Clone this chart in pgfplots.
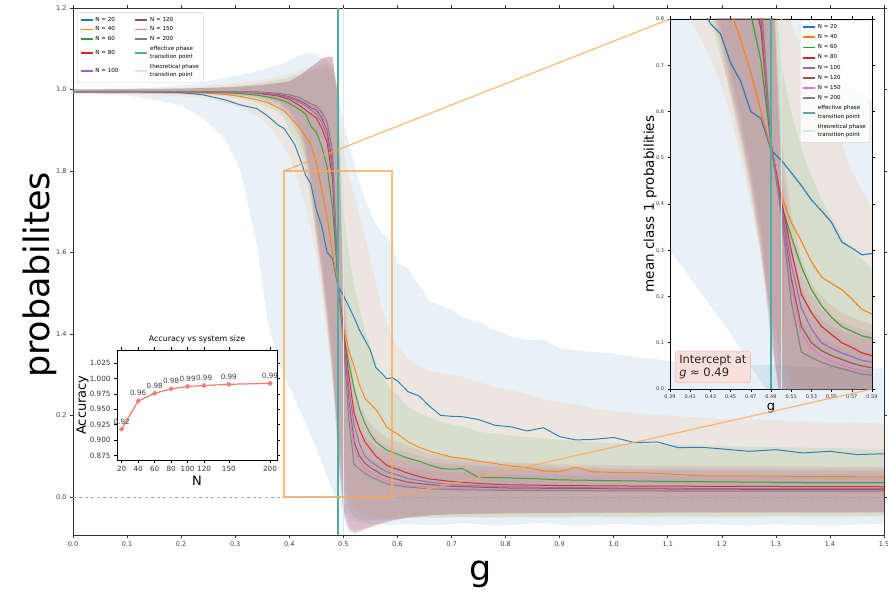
\documentclass[border=0pt]{standalone}
\usepackage{fontspec}
\setmainfont{DejaVu Sans}
\usepackage{pgfplots}
\usepackage{pgfplotstable}
\pgfplotsset{compat=1.18}
\usepgfplotslibrary{fillbetween}

\definecolor{cA}{HTML}{1F77B4}
\definecolor{cB}{HTML}{FF7F0E}
\definecolor{cC}{HTML}{2CA02C}
\definecolor{cD}{HTML}{D62728}
\definecolor{cE}{HTML}{9467BD}
\definecolor{cF}{HTML}{8C564B}
\definecolor{cG}{HTML}{E377C2}
\definecolor{cH}{HTML}{7F7F7F}
\definecolor{tealc}{RGB}{84,172,160}
\definecolor{theo}{RGB}{205,236,233}
\definecolor{salm}{RGB}{240,125,115}
\definecolor{boxf}{RGB}{250,222,218}
\definecolor{boxd}{RGB}{228,180,172}

\pgfplotstableread{
g m lo hi
0.00 0.995 0.990 1.000
0.10 0.995 0.985 1.002
0.15 0.994 0.975 1.005
0.20 0.992 0.960 1.010
0.24 0.987 0.930 1.018
0.28 0.975 0.880 1.028
0.31 0.962 0.800 1.036
0.34 0.953 0.620 1.045
0.36 0.935 0.430 1.052
0.38 0.912 0.330 1.060
0.39 0.905 0.300 1.065
0.40 0.885 0.270 1.070
0.41 0.865 0.240 1.078
0.42 0.830 0.210 1.085
0.43 0.790 0.180 1.088
0.44 0.768 0.150 1.090
0.45 0.705 0.120 1.088
0.46 0.665 0.085 1.080
0.47 0.600 0.050 1.070
0.48 0.585 0.015 1.055
0.49 0.517 -0.015 1.000
0.50 0.495 -0.035 0.920
0.51 0.468 -0.050 0.870
0.52 0.440 -0.058 0.820
0.53 0.409 -0.062 0.770
0.54 0.385 -0.065 0.730
0.55 0.360 -0.066 0.700
0.56 0.318 -0.067 0.670
0.57 0.305 -0.066 0.650
0.58 0.290 -0.068 0.640
0.59 0.293 -0.070 0.620
0.60 0.285 -0.068 0.575
0.62 0.258 -0.066 0.560
0.64 0.248 -0.068 0.520
0.66 0.222 -0.070 0.480
0.68 0.200 -0.069 0.470
0.70 0.198 -0.066 0.460
0.72 0.197 -0.064 0.440
0.75 0.190 -0.067 0.430
0.78 0.176 -0.071 0.410
0.81 0.172 -0.069 0.395
0.84 0.162 -0.066 0.384
0.87 0.170 -0.064 0.386
0.90 0.148 -0.068 0.366
0.93 0.140 -0.072 0.360
0.96 0.141 -0.070 0.356
1.00 0.146 -0.066 0.352
1.04 0.133 -0.068 0.342
1.08 0.135 -0.071 0.338
1.12 0.121 -0.069 0.330
1.16 0.122 -0.066 0.332
1.20 0.118 -0.068 0.327
1.25 0.112 -0.071 0.322
1.30 0.116 -0.067 0.325
1.35 0.108 -0.069 0.318
1.40 0.112 -0.072 0.320
1.45 0.104 -0.068 0.314
1.50 0.106 -0.066 0.316
}\tabA

\pgfplotstableread{
g m lo hi
0.00 0.995 0.990 1.000
0.10 0.995 0.989 1.001
0.20 0.994 0.984 1.004
0.24 0.992 0.978 1.008
0.28 0.988 0.968 1.013
0.31 0.983 0.955 1.018
0.34 0.975 0.935 1.023
0.36 0.968 0.915 1.027
0.38 0.955 0.880 1.032
0.39 0.948 0.860 1.035
0.40 0.935 0.835 1.039
0.41 0.920 0.800 1.043
0.42 0.905 0.760 1.047
0.43 0.885 0.715 1.051
0.44 0.865 0.660 1.055
0.45 0.820 0.590 1.058
0.46 0.755 0.500 1.060
0.47 0.685 0.400 1.065
0.48 0.600 0.290 1.060
0.49 0.520 0.170 1.000
0.50 0.420 0.070 0.850
0.51 0.360 0.010 0.790
0.52 0.320 -0.020 0.740
0.53 0.275 -0.035 0.690
0.54 0.242 -0.042 0.640
0.55 0.228 -0.046 0.580
0.56 0.215 -0.048 0.530
0.57 0.195 -0.050 0.470
0.58 0.172 -0.051 0.430
0.59 0.162 -0.050 0.390
0.60 0.155 -0.052 0.370
0.62 0.135 -0.050 0.340
0.64 0.122 -0.049 0.320
0.66 0.112 -0.051 0.310
0.68 0.105 -0.052 0.305
0.70 0.098 -0.050 0.300
0.72 0.095 -0.049 0.295
0.75 0.088 -0.051 0.282
0.78 0.082 -0.052 0.270
0.81 0.076 -0.050 0.262
0.84 0.072 -0.049 0.252
0.87 0.064 -0.051 0.240
0.90 0.062 -0.052 0.232
0.93 0.073 -0.050 0.228
0.96 0.062 -0.049 0.218
1.00 0.060 -0.051 0.210
1.04 0.060 -0.052 0.206
1.08 0.058 -0.050 0.202
1.12 0.055 -0.049 0.198
1.16 0.052 -0.051 0.195
1.20 0.052 -0.052 0.192
1.30 0.051 -0.050 0.188
1.40 0.050 -0.051 0.184
1.50 0.049 -0.050 0.180
}\tabB

\pgfplotstableread{
g m lo hi
0.00 0.995 0.991 1.000
0.20 0.995 0.989 1.002
0.28 0.992 0.984 1.006
0.31 0.990 0.978 1.010
0.34 0.986 0.968 1.015
0.36 0.982 0.958 1.019
0.38 0.976 0.945 1.024
0.39 0.972 0.930 1.027
0.40 0.966 0.900 1.030
0.41 0.958 0.880 1.034
0.42 0.950 0.850 1.038
0.43 0.940 0.800 1.042
0.44 0.910 0.720 1.046
0.45 0.895 0.640 1.050
0.46 0.860 0.550 1.052
0.47 0.810 0.440 1.055
0.48 0.710 0.300 1.050
0.49 0.530 0.150 0.980
0.50 0.400 0.030 0.700
0.51 0.330 -0.030 0.600
0.52 0.265 -0.050 0.520
0.53 0.215 -0.056 0.460
0.54 0.180 -0.058 0.410
0.55 0.155 -0.058 0.370
0.56 0.135 -0.057 0.330
0.57 0.125 -0.056 0.300
0.58 0.115 -0.055 0.280
0.59 0.110 -0.054 0.260
0.60 0.105 -0.053 0.250
0.62 0.095 -0.052 0.220
0.64 0.088 -0.051 0.205
0.66 0.078 -0.050 0.196
0.68 0.070 -0.050 0.185
0.70 0.068 -0.049 0.178
0.72 0.070 -0.050 0.174
0.75 0.048 -0.050 0.160
0.80 0.047 -0.049 0.152
0.85 0.045 -0.050 0.146
0.90 0.042 -0.049 0.140
0.95 0.041 -0.048 0.136
1.00 0.040 -0.049 0.132
1.10 0.038 -0.048 0.128
1.20 0.037 -0.048 0.125
1.30 0.036 -0.047 0.122
1.40 0.035 -0.047 0.120
1.50 0.035 -0.046 0.118
}\tabC

\pgfplotstableread{
g m lo hi
0.00 0.995 0.991 1.000
0.20 0.995 0.990 1.002
0.30 0.994 0.986 1.006
0.34 0.991 0.980 1.010
0.38 0.984 0.960 1.016
0.40 0.976 0.930 1.020
0.42 0.960 0.880 1.035
0.43 0.950 0.830 1.045
0.44 0.940 0.740 1.055
0.45 0.930 0.630 1.065
0.46 0.905 0.530 1.075
0.47 0.870 0.420 1.080
0.48 0.780 0.290 1.080
0.49 0.530 0.100 0.980
0.50 0.410 -0.030 0.550
0.51 0.300 -0.070 0.380
0.52 0.205 -0.082 0.280
0.53 0.165 -0.080 0.230
0.54 0.135 -0.076 0.200
0.55 0.118 -0.072 0.180
0.56 0.100 -0.068 0.165
0.57 0.090 -0.064 0.155
0.58 0.078 -0.060 0.147
0.59 0.072 -0.057 0.140
0.60 0.068 -0.055 0.135
0.62 0.058 -0.050 0.125
0.64 0.050 -0.047 0.115
0.66 0.044 -0.045 0.106
0.70 0.038 -0.043 0.098
0.75 0.033 -0.042 0.090
0.80 0.030 -0.041 0.085
0.90 0.028 -0.040 0.080
1.00 0.027 -0.040 0.078
1.20 0.026 -0.039 0.076
1.50 0.025 -0.039 0.074
}\tabD

\pgfplotstableread{
g m lo hi
0.00 0.995 0.991 1.000
0.20 0.995 0.990 1.002
0.30 0.994 0.987 1.006
0.34 0.992 0.982 1.010
0.38 0.986 0.965 1.016
0.40 0.980 0.940 1.020
0.42 0.968 0.890 1.035
0.43 0.960 0.845 1.045
0.44 0.950 0.760 1.055
0.45 0.940 0.650 1.065
0.46 0.920 0.550 1.075
0.47 0.885 0.440 1.080
0.48 0.800 0.310 1.080
0.49 0.530 0.110 0.980
0.50 0.400 -0.035 0.500
0.51 0.270 -0.075 0.340
0.52 0.175 -0.085 0.250
0.53 0.130 -0.082 0.200
0.54 0.100 -0.078 0.170
0.55 0.088 -0.073 0.155
0.56 0.078 -0.068 0.145
0.57 0.070 -0.064 0.135
0.58 0.062 -0.060 0.128
0.59 0.058 -0.057 0.122
0.60 0.054 -0.054 0.118
0.62 0.045 -0.050 0.108
0.66 0.036 -0.045 0.095
0.70 0.030 -0.042 0.088
0.80 0.025 -0.040 0.078
1.00 0.022 -0.039 0.072
1.20 0.021 -0.038 0.070
1.50 0.021 -0.038 0.069
}\tabE

\pgfplotstableread{
g m lo hi
0.00 0.995 0.992 1.000
0.20 0.995 0.991 1.002
0.30 0.994 0.988 1.006
0.34 0.993 0.984 1.010
0.38 0.988 0.970 1.016
0.40 0.983 0.945 1.020
0.42 0.972 0.900 1.035
0.43 0.965 0.855 1.045
0.44 0.955 0.770 1.055
0.45 0.950 0.665 1.065
0.46 0.930 0.565 1.075
0.47 0.900 0.455 1.080
0.48 0.820 0.325 1.080
0.49 0.530 0.120 0.980
0.50 0.390 -0.040 0.470
0.51 0.240 -0.080 0.300
0.52 0.135 -0.088 0.220
0.53 0.100 -0.084 0.170
0.54 0.083 -0.079 0.150
0.55 0.072 -0.074 0.135
0.56 0.064 -0.069 0.125
0.57 0.056 -0.065 0.118
0.58 0.050 -0.061 0.112
0.59 0.046 -0.058 0.107
0.60 0.043 -0.055 0.103
0.62 0.036 -0.050 0.095
0.66 0.030 -0.045 0.085
0.70 0.026 -0.042 0.080
0.80 0.022 -0.040 0.072
1.00 0.020 -0.038 0.067
1.20 0.019 -0.037 0.065
1.50 0.018 -0.037 0.064
}\tabF

\pgfplotstableread{
g m lo hi
0.00 0.995 0.992 1.000
0.20 0.995 0.991 1.002
0.30 0.994 0.989 1.006
0.34 0.993 0.985 1.010
0.38 0.990 0.972 1.016
0.40 0.985 0.950 1.020
0.42 0.976 0.905 1.035
0.43 0.970 0.865 1.045
0.44 0.960 0.780 1.055
0.45 0.955 0.680 1.065
0.46 0.940 0.580 1.075
0.47 0.910 0.470 1.080
0.48 0.835 0.340 1.080
0.49 0.530 0.130 0.980
0.50 0.385 -0.045 0.450
0.51 0.220 -0.082 0.270
0.52 0.120 -0.090 0.190
0.53 0.088 -0.085 0.150
0.54 0.070 -0.080 0.130
0.55 0.060 -0.075 0.120
0.56 0.052 -0.070 0.110
0.57 0.045 -0.066 0.102
0.58 0.040 -0.062 0.097
0.59 0.036 -0.058 0.093
0.60 0.033 -0.055 0.090
0.62 0.028 -0.050 0.084
0.66 0.024 -0.045 0.076
0.70 0.021 -0.042 0.070
0.80 0.018 -0.040 0.064
1.00 0.016 -0.038 0.060
1.20 0.015 -0.037 0.058
1.50 0.015 -0.036 0.057
}\tabG

\pgfplotstableread{
g m lo hi
0.00 0.995 0.993 1.000
0.20 0.995 0.992 1.002
0.30 0.995 0.990 1.006
0.34 0.994 0.986 1.010
0.38 0.991 0.975 1.016
0.40 0.987 0.955 1.020
0.42 0.980 0.910 1.035
0.43 0.972 0.870 1.045
0.44 0.965 0.790 1.055
0.45 0.960 0.690 1.065
0.46 0.945 0.590 1.075
0.47 0.920 0.480 1.080
0.48 0.850 0.350 1.080
0.49 0.530 0.140 0.980
0.50 0.380 -0.050 0.420
0.51 0.190 -0.085 0.220
0.52 0.080 -0.092 0.150
0.53 0.068 -0.087 0.120
0.54 0.058 -0.082 0.110
0.55 0.050 -0.077 0.100
0.56 0.044 -0.072 0.090
0.57 0.038 -0.067 0.085
0.58 0.032 -0.063 0.080
0.59 0.030 -0.059 0.077
0.60 0.028 -0.056 0.075
0.62 0.024 -0.051 0.070
0.66 0.020 -0.046 0.064
0.70 0.018 -0.043 0.060
0.80 0.016 -0.040 0.055
1.00 0.015 -0.038 0.052
1.20 0.014 -0.037 0.050
1.50 0.014 -0.036 0.050
}\tabH

\newcommand\bandplot[3]{%
  \addplot[draw=none, forget plot, name path=#1h] table[x=g,y=hi]{#2};
  \addplot[draw=none, forget plot, name path=#1l] table[x=g,y=lo]{#2};
  \addplot[fill=#3, fill opacity=0.1, draw=none, forget plot] fill between[of=#1h and #1l];
}
\newcommand\lineplot[3]{%
  \addplot[#3, line width=#1, opacity=0.9, forget plot] table[x=g,y=m]{#2};
}
\newcommand\allbands{%
  \bandplot{A}{\tabA}{cA}
  \bandplot{B}{\tabB}{cB}
  \bandplot{C}{\tabC}{cC}
  \bandplot{D}{\tabD}{cD}
  \bandplot{E}{\tabE}{cE}
  \bandplot{F}{\tabF}{cF}
  \bandplot{G}{\tabG}{cG}
  \bandplot{H}{\tabH}{cH}
}
\newcommand\alllines[1]{%
  \lineplot{#1}{\tabA}{cA}
  \lineplot{#1}{\tabB}{cB}
  \lineplot{#1}{\tabC}{cC}
  \lineplot{#1}{\tabD}{cD}
  \lineplot{#1}{\tabE}{cE}
  \lineplot{#1}{\tabF}{cF}
  \lineplot{#1}{\tabG}{cG}
  \lineplot{#1}{\tabH}{cH}
}

\begin{document}
\begin{tikzpicture}

% ---------------- main axis ----------------
\begin{axis}[
  at={(73pt,63pt)}, anchor=south west, scale only axis,
  width=811pt, height=527pt,
  xmin=0, xmax=1.5, ymin=-0.0934, ymax=1.2,
  xtick={0,0.1,0.2,0.3,0.4,0.5,0.6,0.7,0.8,0.9,1.0,1.1,1.2,1.3,1.4,1.5},
  xticklabels={0.0,0.1,0.2,0.3,0.4,0.5,0.6,0.7,0.8,0.9,1.0,1.1,1.2,1.3,1.4,1.5},
  ytick={0,0.2,0.4,0.6,0.8,1.0,1.2},
  yticklabels={0.0,0.2,1.4,1.6,1.8,1.0,1.2},
  tick label style={font=\fontsize{6.5}{7}\selectfont, text=black!75},
  tick align=outside, major tick length=3pt,
  tick style={black!80, line width=0.6pt},
  axis line style={black!80, line width=0.9pt},
  xlabel={g}, ylabel={probabilites},
  xlabel style={font=\fontsize{35}{40}\selectfont, at={(axis description cs:0.502,-0.075)}, anchor=center},
  ylabel style={font=\fontsize{35}{40}\selectfont, at={(axis description cs:-0.0413,0.4934)}, anchor=center},
  legend columns=2,
  legend cell align=left,
  legend image code/.code={\draw[line width=1.6pt, #1] (0pt,0pt) -- (12pt,0pt);},
  legend style={at={(0.005,0.992)}, anchor=north west,
    font=\fontsize{5.6}{6.3}\selectfont,
    draw=black!20, fill=white, fill opacity=0.85, text opacity=1,
    rounded corners=1.5pt, inner sep=2.5pt,
    /tikz/every even column/.append style={column sep=14pt}},
]
\allbands
\alllines{1pt}
\addplot[gray!70, dashed, line width=0.7pt, forget plot] coordinates {(0,0) (1.5,0)};
\addplot[theo, line width=1.4pt, forget plot] coordinates {(0.5,-0.0934) (0.5,1.2)};
\addplot[tealc, line width=1.8pt, forget plot] coordinates {(0.49,-0.0934) (0.49,1.2)};
\addplot[cB!70, opacity=0.75, line width=1.3pt, forget plot] coordinates {(0.39,0) (0.59,0) (0.59,0.8) (0.39,0.8) (0.39,0)};
\coordinate (rTL) at (axis cs:0.39,0.8);
\coordinate (rBR) at (axis cs:0.59,0);
\addlegendimage{color=cA}\addlegendentry{N = 20}
\addlegendimage{color=cF}\addlegendentry{N = 120}
\addlegendimage{color=cB}\addlegendentry{N = 40}
\addlegendimage{color=cG}\addlegendentry{N = 150}
\addlegendimage{color=cC}\addlegendentry{N = 60}
\addlegendimage{color=cH}\addlegendentry{N = 200}
\addlegendimage{color=cD}\addlegendentry{N = 80}
\addlegendimage{color=tealc, line width=2.4pt}\addlegendentry{\shortstack[l]{effective phase\\transition point}}
\addlegendimage{color=cE}\addlegendentry{N = 100}
\addlegendimage{color=theo, line width=2.4pt}\addlegendentry{\shortstack[l]{theoretical phase\\transition point}}
\end{axis}

% ---------------- accuracy inset ----------------
\begin{axis}[
  at={(117pt,138pt)}, anchor=south west, scale only axis,
  width=160pt, height=110pt,
  xmin=14.3, xmax=208.5, ymin=0.868, ymax=1.046,
  axis background/.style={fill=white},
  xtick={20,40,60,80,100,120,150,200},
  ytick={0.875,0.900,0.925,0.950,0.975,1.000,1.025},
  yticklabel style={/pgf/number format/fixed, /pgf/number format/precision=3, /pgf/number format/fixed zerofill},
  /pgf/number format/assume math mode=true,
  tick label style={font=\fontsize{7.2}{8}\selectfont, text=black!80},
  tick align=outside, major tick length=3pt,
  tick style={black, line width=0.6pt},
  axis line style={black, line width=0.9pt},
  title={Accuracy vs system size},
  title style={font=\fontsize{7.9}{9}\selectfont, at={(axis description cs:0.5,1)}, anchor=center, yshift=4.5pt},
  xlabel={N}, ylabel={Accuracy},
  xlabel style={font=\fontsize{13}{15}\selectfont, at={(axis description cs:0.5,-0.19)}, anchor=center},
  ylabel style={font=\fontsize{13}{15}\selectfont, at={(axis description cs:-0.215,0.5)}, anchor=center},
]
\addplot[salm, line width=1.2pt, mark=*, mark size=1.8pt, mark options={fill=salm, draw=salm},
  nodes near coords, point meta=explicit symbolic,
  nodes near coords style={font=\fontsize{7.2}{8}\selectfont, text=black!75, anchor=south, yshift=1pt}]
  coordinates {
  (20,0.918) [0.92]
  (40,0.9635) [0.96]
  (60,0.976) [0.98]
  (80,0.983) [0.98]
  (100,0.987) [0.99]
  (120,0.9885) [0.99]
  (150,0.9905) [0.99]
  (200,0.992) [0.99]
  };
\end{axis}

% ---------------- zoom inset ----------------
\begin{axis}[
  at={(670pt,209pt)}, anchor=south west, scale only axis,
  width=202pt, height=370pt,
  xmin=0.39, xmax=0.59, ymin=0, ymax=0.8,
  axis background/.style={fill=white},
  xtick={0.39,0.41,0.43,0.45,0.47,0.49,0.51,0.53,0.55,0.57,0.59},
  ytick={0,0.1,0.2,0.3,0.4,0.5,0.6,0.7,0.8},
  xticklabel style={/pgf/number format/fixed, /pgf/number format/precision=2, /pgf/number format/fixed zerofill},
  yticklabel style={/pgf/number format/fixed, /pgf/number format/precision=1, /pgf/number format/fixed zerofill},
  /pgf/number format/assume math mode=true,
  tick label style={font=\fontsize{5}{6}\selectfont, text=black!80},
  tick align=outside, major tick length=2.5pt,
  tick style={black, line width=0.6pt},
  axis line style={black, line width=0.9pt},
  xlabel={g}, ylabel={mean class 1 probabilities},
  xlabel style={font=\fontsize{13}{15}\selectfont, at={(axis description cs:0.5,-0.051)}, anchor=center},
  ylabel style={font=\fontsize{13.5}{15}\selectfont, at={(axis description cs:-0.098,0.5)}, anchor=center},
  legend cell align=left,
  legend image code/.code={\draw[line width=1.8pt, #1] (0pt,0pt) -- (12pt,0pt);},
  legend style={at={(0.99,0.997)}, anchor=north east,
    font=\fontsize{5.5}{6.2}\selectfont,
    draw=black!15, fill=white, fill opacity=0.85, text opacity=1,
    rounded corners=1.5pt, inner sep=2pt, row sep=0.6pt},
]
\allbands
\alllines{1.2pt}
\addplot[theo, line width=1.2pt, forget plot] coordinates {(0.5,0) (0.5,0.8)};
\addplot[tealc, line width=1.6pt, forget plot] coordinates {(0.49,0) (0.49,0.8)};
\coordinate (iTL) at (rel axis cs:0,1);
\coordinate (iBR) at (rel axis cs:1,0);
\node[fill=boxf, draw=boxd, rounded corners=2.5pt, align=left, anchor=south west,
  font=\fontsize{11.5}{13}\selectfont, text=black!85, inner sep=4pt]
  at (rel axis cs:0.025,0.016) {Intercept at\\{\itshape g} ≈ 0.49};
\addlegendimage{color=cA}\addlegendentry{N = 20}
\addlegendimage{color=cB}\addlegendentry{N = 40}
\addlegendimage{color=cC}\addlegendentry{N = 60}
\addlegendimage{color=cD}\addlegendentry{N = 80}
\addlegendimage{color=cE}\addlegendentry{N = 100}
\addlegendimage{color=cF}\addlegendentry{N = 120}
\addlegendimage{color=cG}\addlegendentry{N = 150}
\addlegendimage{color=cH}\addlegendentry{N = 200}
\addlegendimage{color=tealc, line width=2.4pt}\addlegendentry{\shortstack[l]{effective phase\\transition point}}
\addlegendimage{color=theo, line width=2.4pt}\addlegendentry{\shortstack[l]{theoretical phase\\transition point}}
\end{axis}

\draw[cB!70, opacity=0.75, line width=1.3pt] (rTL) -- (iTL);
\draw[cB!70, opacity=0.75, line width=1.3pt] (rBR) -- (iBR);
\pgfresetboundingbox
\useasboundingbox (0,0) rectangle (888pt,598pt);
\end{tikzpicture}
\end{document}
